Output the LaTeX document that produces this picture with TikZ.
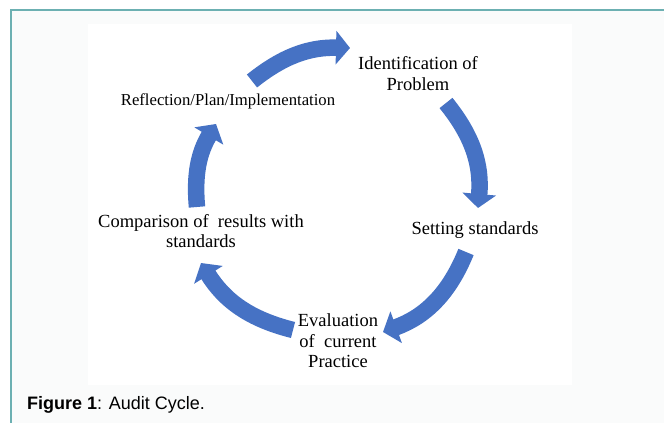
\documentclass[tikz,border=0pt]{standalone}
\usepackage{fontspec}
\setmainfont{Liberation Serif}
\newfontfamily\capfont{Liberation Sans}
\usetikzlibrary{arrows.meta,positioning}
\definecolor{cycleBlue}{RGB}{70,114,196}
\definecolor{frameTeal}{RGB}{108,176,178}
\definecolor{panelGray}{RGB}{250,251,251}

\begin{document}
\begin{tikzpicture}[
        x=1pt, y=1pt,
        stage/.style={align=center, inner sep=0pt, font=\fontsize{18.5}{20.5}\selectfont},
        cyclearrow/.style={-{Triangle[width=33pt,length=14pt]}, line width=16.5pt, cycleBlue}
    ]
        % Frame
        \useasboundingbox (0,0) rectangle (664,423);
        \fill[panelGray] (10,0) rectangle (664,413);
        \fill[white] (88,38) rectangle (572,399);
        \draw[frameTeal, line width=2pt] (10.5,0) -- (10.5,412.5) -- (664,412.5);

        % Stages
        \node[stage] (ident) at (418,349.5) {Identification of\\Problem};
        \node[stage] (setting) at (475,193) {Setting standards};
        \node[stage] (eval) at (338,82) {Evaluation\\of\ \ current\\Practice};
        \node[stage] (comp) at (201,192) {Comparison of\ \ results with\\standards};
        \node[stage, font=\fontsize{16.7}{18}\selectfont] (refl) at (228,322) {Reflection/Plan/Implementation};

        % Arrow ends
        \coordinate (t1) at (252,342); \coordinate (h1) at (350,375);
        \coordinate (t2) at (446,320); \coordinate (h2) at (478,215);
        \coordinate (t3) at (466,171); \coordinate (h3) at (383,91);
        \coordinate (t4) at (293,93);  \coordinate (h4) at (201,160);
        \coordinate (t5) at (197,216); \coordinate (h5) at (216,299);

        % Arrows
        \draw[cyclearrow] (t1) to[bend left=20] (h1);
        \draw[cyclearrow] (t2) to[bend left=22] (h2);
        \draw[cyclearrow] (t3) to[bend left=24] (h3);
        \draw[cyclearrow] (t4) to[bend left=22] (h4);
        \draw[cyclearrow] (t5) to[bend left=18] (h5);

        % Caption
        \node[anchor=west, inner sep=0pt, font=\capfont\fontsize{18}{20}\selectfont] (caption) at (27,18) {\textbf{Figure 1}: Audit Cycle.};
\end{tikzpicture}
\end{document}
